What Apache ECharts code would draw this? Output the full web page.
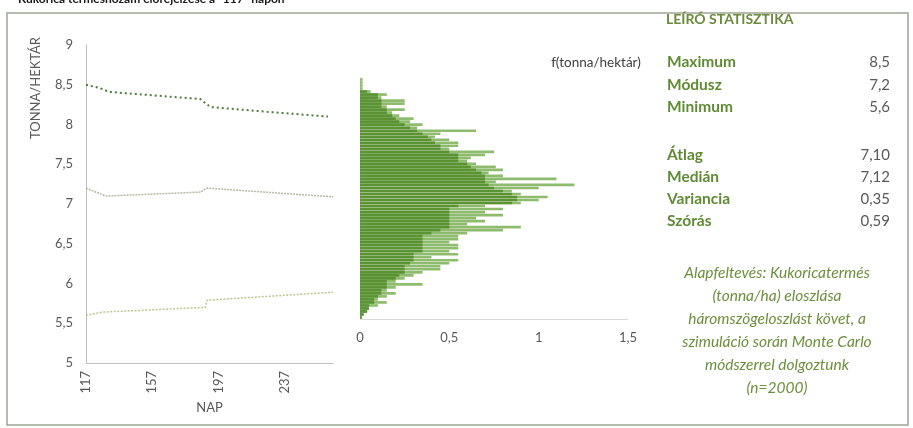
<!DOCTYPE html>
<html>
<head>
<meta charset="utf-8">
<script src="https://cdn.jsdelivr.net/npm/echarts@6/dist/echarts.min.js"></script>
<style>html,body{margin:0;padding:0;background:#fff;}#c{width:913px;height:428px;}</style>
</head>
<body>
<div id="c"></div>
<script>
// ---------- DATA ----------
const titleText = 'Kukorica terméshozam előrejelzése a "117" napon';
const yTicksLeft = [5, 5.5, 6, 6.5, 7, 7.5, 8, 8.5, 9];
const xTickDays = ['117', '157', '197', '237'];
// breakpoints [day, tonna/hektár]
const maxSeries = [[117, 8.50], [125, 8.46], [131, 8.41], [186, 8.32], [189, 8.27], [192, 8.22], [226, 8.16], [263, 8.10]];
const modeSeries = [[117, 7.20], [129, 7.10], [186, 7.15], [190, 7.20], [266, 7.09]];
const minSeries = [[117, 5.60], [127, 5.64], [189, 5.70], [190, 5.79], [266, 5.89]];
// histogram (top bin -> bottom bin)
const histAll = [0.015, 0.015, 0.015, 0.015, 0.06, 0.15, 0.12, 0.25, 0.25, 0.15,
  0.25, 0.18, 0.22, 0.30, 0.28, 0.35, 0.32, 0.65, 0.45, 0.42,
  0.50, 0.55, 0.55, 0.50, 0.75, 0.70, 0.62, 0.60, 0.65, 0.76,
  0.80, 0.72, 0.80, 1.10, 0.76, 1.20, 1.00, 0.85, 0.90, 1.05,
  1.00, 0.90, 0.70, 0.80, 0.70, 0.80, 0.65, 0.70, 0.60, 0.90,
  0.80, 0.60, 0.55, 0.55, 0.50, 0.55, 0.55, 0.50, 0.55, 0.40,
  0.55, 0.50, 0.45, 0.45, 0.35, 0.30, 0.25, 0.20, 0.35, 0.20,
  0.15, 0.20, 0.15, 0.10, 0.15, 0.10, 0.05, 0.04, 0.02, 0.01];
const histCore = [0, 0, 0, 0, 0.04, 0.10, 0.10, 0.12, 0.12, 0.12,
  0.15, 0.15, 0.18, 0.20, 0.22, 0.25, 0.28, 0.32, 0.35, 0.38,
  0.40, 0.42, 0.45, 0.45, 0.50, 0.55, 0.55, 0.55, 0.60, 0.62,
  0.65, 0.68, 0.70, 0.70, 0.70, 0.72, 0.75, 0.80, 0.85, 0.88,
  0.88, 0.85, 0.55, 0.50, 0.50, 0.50, 0.50, 0.50, 0.50, 0.50,
  0.45, 0.40, 0.35, 0.35, 0.35, 0.35, 0.35, 0.35, 0.30, 0.30,
  0.30, 0.28, 0.25, 0.25, 0.25, 0.22, 0.20, 0.15, 0.15, 0.15,
  0.12, 0.12, 0.10, 0.08, 0.08, 0.05, 0.05, 0.04, 0.02, 0.01];
const histXTicks = [0, 0.5, 1, 1.5];
const statTitle = 'LEÍRÓ STATISZTIKA';
const statLabels = ['Maximum', 'Módusz', 'Minimum', 'Átlag', 'Medián', 'Variancia', 'Szórás'];
const statValues = ['8,5', '7,2', '5,6', '7,10', '7,12', '0,35', '0,59'];
const noteLines = ['Alapfeltevés: Kukoricatermés', '(tonna/ha) eloszlása', 'háromszögeloszlást követ, a', 'szimuláció során Monte Carlo', 'módszerrel dolgoztunk', '(n=2000)'];

// ---------- BUILD ----------
const FONT = 'Lato, "Open Sans", sans-serif';
const days = [];
for (let d = 117; d <= 266; d++) days.push(String(d));
const toCat = arr => arr.map(p => [String(p[0]), p[1]]);
const binNames = histAll.map((v, i) => 'b' + i);
const comma = v => String(v).replace('.', ',');

const chart = echarts.init(document.getElementById('c'), null, {renderer: 'canvas'});

const statY = [62, 85, 107, 155, 177, 199, 221];
const graphics = [
  {type: 'rect', shape: {x: 7, y: 13, width: 901, height: 412}, style: {fill: 'none', stroke: '#9ea692', lineWidth: 1.5}, z: 0},
  {type: 'text', x: 18, y: -1, style: {text: titleText, font: 'bold 12px ' + FONT, fill: '#1a1a1a', align: 'left', verticalAlign: 'middle'}},
  {type: 'text', x: 36, y: 88, rotation: Math.PI / 2, style: {text: 'TONNA/HEKTÁR', font: '13px ' + FONT, fill: '#595959', align: 'center', verticalAlign: 'middle'}},
  {type: 'text', x: 596, y: 63, style: {text: 'f(tonna/hektár)', font: '13.5px ' + FONT, fill: '#404040', align: 'center', verticalAlign: 'middle'}},
  {type: 'text', x: 666, y: 19, style: {text: statTitle, font: 'bold 14px ' + FONT, fill: '#6b8a3c', align: 'left', verticalAlign: 'middle'}}
];
statLabels.forEach((lab, i) => {
  graphics.push({type: 'text', x: 667, y: statY[i], style: {text: lab, font: 'bold 15.5px ' + FONT, fill: '#5f8b34', align: 'left', verticalAlign: 'middle'}});
  graphics.push({type: 'text', x: 890, y: statY[i], style: {text: statValues[i], font: '15px ' + FONT, fill: '#595959', align: 'right', verticalAlign: 'middle'}});
});
noteLines.forEach((t, i) => {
  graphics.push({type: 'text', x: 777, y: 273 + i * 23, style: {text: t, font: 'italic 15.5px ' + FONT, fill: '#6e8f3e', align: 'center', verticalAlign: 'middle'}});
});

const option = {
  backgroundColor: '#ffffff',
  animation: false,
  textStyle: {fontFamily: FONT},
  grid: [
    {left: 86, top: 45, width: 247, height: 318},
    {left: 360, top: 78, width: 268, height: 241}
  ],
  xAxis: [
    {
      gridIndex: 0, type: 'category', data: days, boundaryGap: false,
      axisLine: {lineStyle: {color: '#bfbfbf'}},
      axisTick: {show: false},
      axisLabel: {
        rotate: 90, margin: 8, color: '#595959', fontSize: 13,
        interval: (idx, val) => xTickDays.indexOf(val) >= 0
      },
      name: 'NAP', nameLocation: 'middle', nameGap: 32,
      nameTextStyle: {color: '#595959', fontSize: 13}
    },
    {
      gridIndex: 1, type: 'value', min: 0, max: 1.5, interval: 0.5,
      axisLine: {show: true, lineStyle: {color: '#d9d9d9'}},
      axisTick: {show: false}, splitLine: {show: false},
      axisLabel: {margin: 12, color: '#595959', fontSize: 13, formatter: v => comma(v)}
    }
  ],
  yAxis: [
    {
      gridIndex: 0, type: 'value', min: 5, max: 9, interval: 0.5,
      axisLine: {show: true, lineStyle: {color: '#bfbfbf'}},
      axisTick: {show: false}, splitLine: {show: false},
      axisLabel: {margin: 13, color: '#595959', fontSize: 13, formatter: v => comma(v)}
    },
    {
      gridIndex: 1, type: 'category', data: binNames, inverse: true,
      axisLine: {show: true, lineStyle: {color: '#d9d9d9'}},
      axisTick: {show: false}, axisLabel: {show: false}
    }
  ],
  series: [
    {type: 'line', xAxisIndex: 0, yAxisIndex: 0, data: toCat(maxSeries), showSymbol: false, symbol: 'none',
      lineStyle: {color: '#4e7d3a', width: 2, type: [2, 3]}},
    {type: 'line', xAxisIndex: 0, yAxisIndex: 0, data: toCat(modeSeries), showSymbol: false, symbol: 'none',
      lineStyle: {color: '#b9b9a8', width: 1.5, type: [2, 1]}},
    {type: 'line', xAxisIndex: 0, yAxisIndex: 0, data: toCat(minSeries), showSymbol: false, symbol: 'none',
      lineStyle: {color: '#bfc48e', width: 1.5, type: [2, 1.5]}},
    {type: 'bar', xAxisIndex: 1, yAxisIndex: 1, data: histAll, barCategoryGap: '12%', barGap: '-100%',
      itemStyle: {color: '#8fbb6e'}},
    {type: 'bar', xAxisIndex: 1, yAxisIndex: 1, data: histCore, barCategoryGap: '12%', barGap: '-100%',
      itemStyle: {color: '#5a9234'}}
  ],
  graphic: graphics
};
chart.setOption(option);
</script>
</body>
</html>
